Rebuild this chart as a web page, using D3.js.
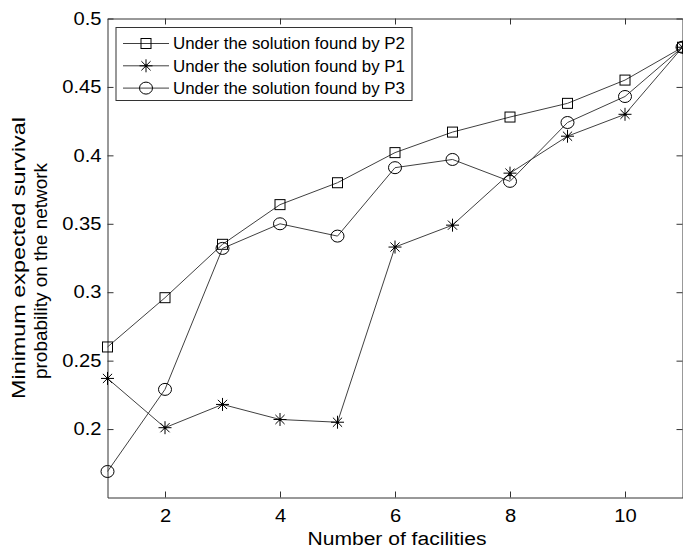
<!DOCTYPE html>
<html>
<head>
<meta charset="utf-8">
<script src="https://cdn.jsdelivr.net/npm/d3@7"></script>
<style>
  body { margin: 0; background: #fff; }
  #chart { width: 683px; height: 549px; }
  text { font-family: "Liberation Sans", Arial, sans-serif; fill: #000; }
</style>
</head>
<body>
<div id="chart"></div>
<script>
//Datos
const facilities = [1, 2, 3, 4, 5, 6, 7, 8, 9, 10, 11];
const p2 = [0.260, 0.296, 0.335, 0.364, 0.380, 0.402, 0.417, 0.428, 0.438, 0.455, 0.479];
const p1 = [0.237, 0.201, 0.218, 0.207, 0.205, 0.333, 0.349, 0.387, 0.414, 0.430, 0.479];
const p3 = [0.169, 0.229, 0.332, 0.350, 0.341, 0.391, 0.397, 0.381, 0.424, 0.443, 0.479];
const seriesNames = ['Under the solution found by P2', 'Under the solution found by P1', 'Under the solution found by P3'];
const xTicks = [2, 4, 6, 8, 10];
const yTicks = [0.2, 0.25, 0.3, 0.35, 0.4, 0.45, 0.5];

const LINE_COLOR = '#404040', AXIS_COLOR = '#333';

let margin = {top: 18.5, right: 0.5, bottom: 51.5, left: 107.5},
    width = 683 - margin.left - margin.right,
    height = 549 - margin.top - margin.bottom;

let svg = d3.select('#chart')
    .append('svg')
        .attr('width', 683)
        .attr('height', 549)
    .append('g')
        .attr('transform', 'translate(' + margin.left + ',' + margin.top + ')');

let x = d3.scaleLinear().domain([1, 11]).range([0, width]);
let y = d3.scaleLinear().domain([0.15, 0.5]).range([height, 0]);

//Texto algo más ancho, como en el original
function widen(sel, k) {
    sel.each(function() {
        let len = this.getComputedTextLength();
        d3.select(this).attr('textLength', len * k).attr('lengthAdjust', 'spacingAndGlyphs');
    });
}

//Ejes (ticks hacia dentro, caja completa)
let tickLen = 6;
svg.append('g')
    .attr('transform', 'translate(0,' + height + ')')
    .call(d3.axisBottom(x).tickValues(xTicks).tickSizeInner(-tickLen).tickSizeOuter(0).tickPadding(12))
    .call(g => g.selectAll('text').style('font-size', '18px').call(widen, 1.12));
svg.append('g')
    .call(d3.axisTop(x).tickValues(xTicks).tickSizeInner(-tickLen).tickSizeOuter(0).tickFormat(''));
svg.append('g')
    .call(d3.axisLeft(y).tickValues(yTicks).tickSizeInner(-tickLen).tickSizeOuter(0).tickPadding(6).tickFormat(d3.format('')))
    .call(g => g.selectAll('text').style('font-size', '18px').call(widen, 1.12));
svg.append('g')
    .attr('transform', 'translate(' + width + ',0)')
    .call(d3.axisRight(y).tickValues(yTicks).tickSizeInner(-tickLen).tickSizeOuter(0).tickFormat(''));

svg.selectAll('.domain, .tick line').attr('stroke', AXIS_COLOR).attr('stroke-width', 1);
svg.selectAll('.tick text').attr('fill', '#000');

//Etiquetas de ejes
svg.append('text')
    .attr('x', width / 2 + 2)
    .attr('y', height + 47)
    .attr('text-anchor', 'middle')
    .attr('textLength', 179)
    .attr('lengthAdjust', 'spacingAndGlyphs')
    .style('font-size', '18px')
    .text('Number of facilities');

svg.append('text')
    .attr('transform', 'translate(' + (-82.5) + ',' + (height / 2) + ') rotate(-90)')
    .attr('text-anchor', 'middle')
    .attr('textLength', 282)
    .attr('lengthAdjust', 'spacingAndGlyphs')
    .style('font-size', '18px')
    .text('Minimum expected survival');
svg.append('text')
    .attr('transform', 'translate(' + (-60.5) + ',' + (height / 2 + 13) + ') rotate(-90)')
    .attr('text-anchor', 'middle')
    .attr('textLength', 216)
    .attr('lengthAdjust', 'spacingAndGlyphs')
    .style('font-size', '18px')
    .text('probability on the network');

//Marcadores
function square(g) {
    g.append('rect').attr('x', -5).attr('y', -5).attr('width', 10).attr('height', 10)
        .attr('fill', 'none').attr('stroke', '#000').attr('stroke-width', 1);
}
function star(g) {
    let r = 6.5;
    let p = d3.path();
    [0, 45, 90, 135].forEach(a => {
        let rad = a * Math.PI / 180;
        p.moveTo(-r * Math.cos(rad), -r * Math.sin(rad));
        p.lineTo(r * Math.cos(rad), r * Math.sin(rad));
    });
    g.append('path').attr('d', p.toString()).attr('fill', 'none').attr('stroke', '#000').attr('stroke-width', 1);
    g.append('circle').attr('r', 1.5).attr('fill', '#000');
}
function circle(g) {
    g.append('ellipse').attr('rx', 6.5).attr('ry', 6)
        .attr('fill', 'none').attr('stroke', '#000').attr('stroke-width', 1);
}

let series = [
    {name: seriesNames[0], values: p2, marker: square},
    {name: seriesNames[1], values: p1, marker: star},
    {name: seriesNames[2], values: p3, marker: circle}
];

let line = d3.line()
    .x((d, i) => x(facilities[i]))
    .y(d => y(d));

series.forEach(s => {
    svg.append('path')
        .datum(s.values)
        .attr('fill', 'none')
        .attr('stroke', LINE_COLOR)
        .attr('stroke-width', 1)
        .attr('d', line);
    s.values.forEach((v, i) => {
        let g = svg.append('g').attr('transform', 'translate(' + x(facilities[i]) + ',' + y(v) + ')');
        s.marker(g);
    });
});

//Leyenda
let legend = svg.append('g').attr('transform', 'translate(8.5,9)');
legend.append('rect')
    .attr('width', 296).attr('height', 73)
    .attr('fill', '#fff').attr('stroke', AXIS_COLOR).attr('stroke-width', 1);
series.forEach((s, i) => {
    let row = legend.append('g').attr('transform', 'translate(0,' + (16 + i * 22.3) + ')');
    row.append('line').attr('x1', 7).attr('x2', 53).attr('stroke', LINE_COLOR).attr('stroke-width', 1);
    s.marker(row.append('g').attr('transform', 'translate(30,0)'));
    row.append('text')
        .attr('x', 57)
        .attr('dy', '0.35em')
        .attr('textLength', 232)
        .attr('lengthAdjust', 'spacingAndGlyphs')
        .style('font-size', '17px')
        .text(s.name);
});
</script>
</body>
</html>
